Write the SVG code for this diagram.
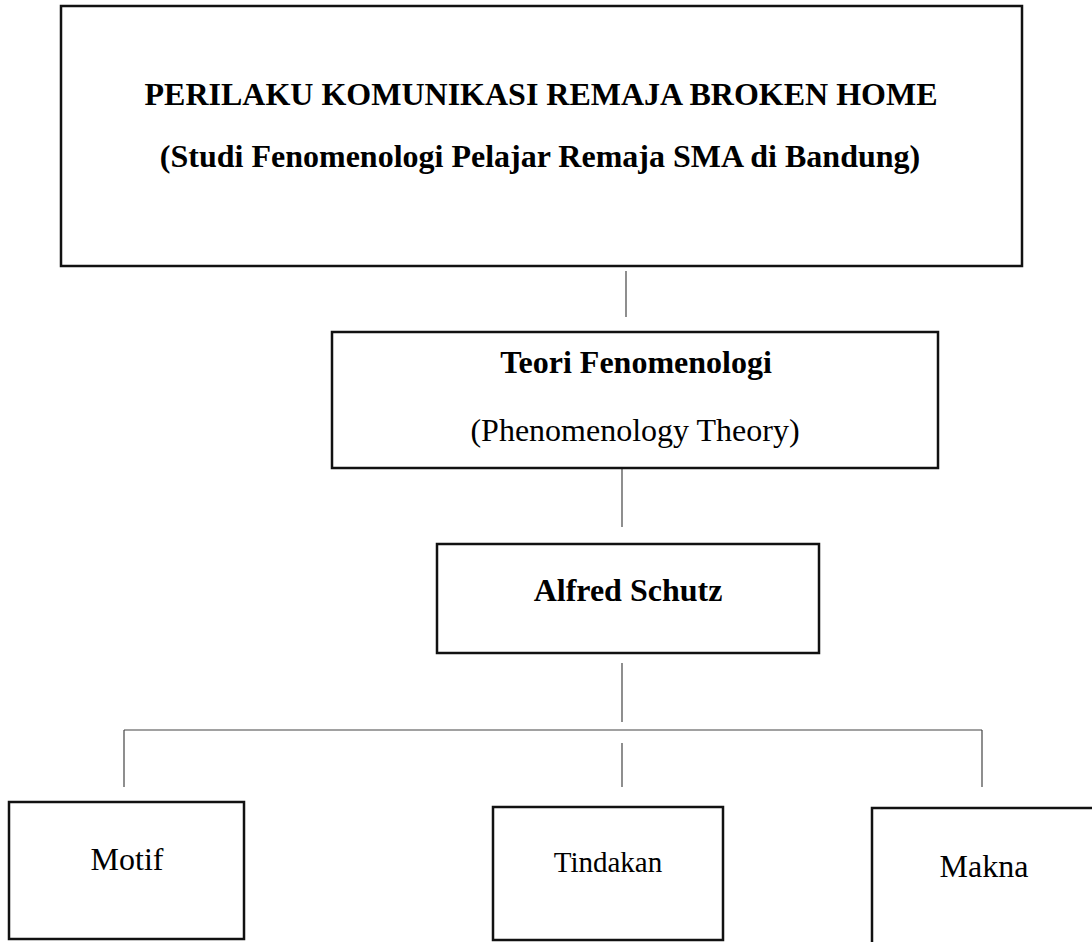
<svg xmlns="http://www.w3.org/2000/svg" width="1092" height="942" viewBox="0 0 1092 942">
<style>
.box{fill:#fff;stroke:#111;stroke-width:2.5}
.conn{stroke:#444;stroke-width:1.2;fill:none}
.t{font-family:"Liberation Serif","Times New Roman",serif;fill:#000;text-anchor:middle}
.b{font-weight:bold;font-size:32px}
.r{font-size:32px}
</style>
<rect width="1092" height="942" fill="#fff"/>
<g id="connectors">
<line class="conn" x1="626" y1="271" x2="626" y2="317"/>
<line class="conn" x1="622" y1="469" x2="622" y2="527"/>
<line class="conn" x1="622" y1="663" x2="622" y2="722"/>
<line class="conn" x1="124" y1="730" x2="982" y2="730"/>
<line class="conn" x1="124" y1="730" x2="124" y2="787"/>
<line class="conn" x1="622" y1="743" x2="622" y2="787"/>
<line class="conn" x1="982" y1="730" x2="982" y2="787"/>
</g>
<g id="title">
<rect class="box" x="61" y="6" width="961" height="260"/>
<text class="t b" x="541" y="105">PERILAKU KOMUNIKASI REMAJA BROKEN HOME</text>
<text class="t b" x="540" y="167">(Studi Fenomenologi Pelajar Remaja SMA di Bandung)</text>
</g>
<g id="teori">
<rect class="box" x="332" y="332" width="606" height="136"/>
<text class="t b" x="636" y="373">Teori Fenomenologi</text>
<text class="t r" x="635" y="441">(Phenomenology Theory)</text>
</g>
<g id="schutz">
<rect class="box" x="437" y="544" width="382" height="109"/>
<text class="t b" x="628" y="601">Alfred Schutz</text>
</g>
<g id="motif">
<rect class="box" x="9" y="802" width="235" height="137"/>
<text class="t r" x="127" y="870">Motif</text>
</g>
<g id="tindakan">
<rect class="box" x="493" y="807" width="230" height="133"/>
<text class="t" x="608" y="872" font-size="29">Tindakan</text>
</g>
<g id="makna">
<rect class="box" x="872" y="808" width="230" height="140"/>
<text class="t r" x="984" y="877">Makna</text>
</g>
</svg>
